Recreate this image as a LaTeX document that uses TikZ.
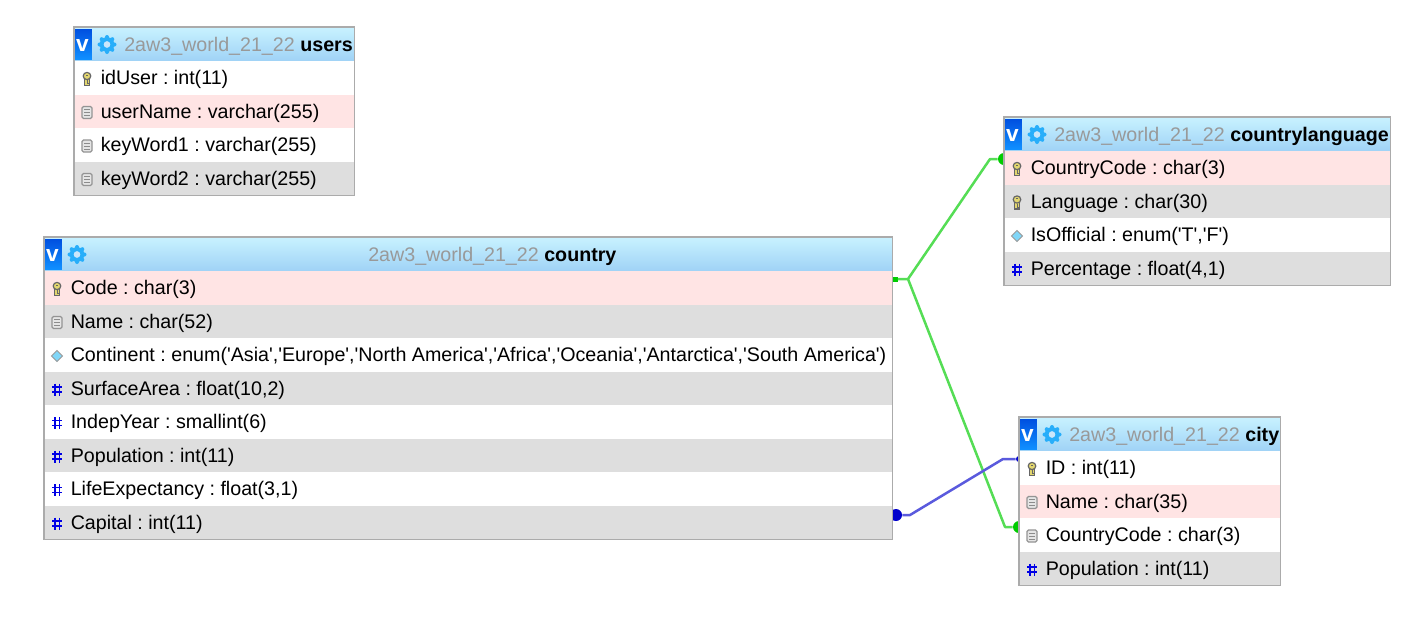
\documentclass[tikz,border=0pt]{standalone}
\usepackage{fontspec}
\newfontfamily\dbfont{Liberation Sans}
\usetikzlibrary{fit,backgrounds}
\definecolor{rowpink}{HTML}{FFE4E4}
\definecolor{rowgrey}{HTML}{DEDEDE}
\definecolor{headtop}{HTML}{C8F2FF}
\definecolor{headblue}{HTML}{9FD2F6}
\definecolor{linkgreen}{HTML}{55DD55}
\definecolor{linkblue}{HTML}{5A5ADD}
\definecolor{gearblue}{HTML}{28AEFA}
\definecolor{keyyellow}{HTML}{E2D66E}
\definecolor{vtop}{HTML}{0050E0}
\definecolor{vbottom}{HTML}{1090FF}
\newdimen\px
\px=0.75pt
\tikzset{
  x=0.75pt, y=-0.75pt,
  dbhead/.style={anchor=north west, inner sep=0, minimum height=34*\px, top color=headtop, middle color=headblue, bottom color=headblue},
  dbrow/.style={anchor=north west, inner sep=0, minimum height=33.5*\px},
  dbtext/.style={anchor=base west, inner sep=0, font=\dbfont\frenchspacing\fontsize{14.75pt}{17pt}\selectfont},
  dbframe/.style={draw=black!33, line width=1.2*\px, inner sep=0},
  vbox/.style={anchor=north west, inner sep=0, minimum width=17*\px, minimum height=30*\px, top color=vtop, bottom color=vbottom},
  link/.style={line width=2.5*\px, line join=round},
  keyicon/.pic={
    \draw[draw=black!60, fill=keyyellow, line width=1.2*\px] (-2.6,-1) -- (-2.6,6.5) -- (2.6,6.5) -- (2.6,-1);
    \draw[draw=black!60, fill=keyyellow, line width=1.2*\px] (0,-3) ellipse (3.8 and 3.6);
    \draw[black!60, line width=1*\px] (-1.2,-4) -- (1.2,-4) (0,1) -- (0,4.5) -- (1.8,4.5);
  },
  texticon/.pic={
    \draw[draw=black!42, fill=black!10, rounded corners=1.5*\px, line width=1.2*\px] (-5,-6) rectangle (5,6);
    \draw[black!45, line width=0.9*\px] (-3,-3) -- (3,-3) (-3,0) -- (3,0) (-3,3) -- (3,3);
  },
  enumicon/.pic={
    \draw[draw=black!40, fill=cyan!50, line width=1*\px] (-5.5,0) -- (0,-5.5) -- (5.5,0) -- (0,5.5) -- cycle;
  },
  numicon/.pic={
    \draw[blue!90!black, line width=1.4*\px] (-2.2,-6) -- (-2.2,6) (2.2,-6) -- (2.2,6) (-5,-2.5) -- (5,-2.5) (-5,2.5) -- (5,2.5);
  },
  gearicon/.pic={
    \foreach \a in {0,45,...,315} \fill[gearblue] (\a:7.5) circle (2);
    \draw[gearblue, line width=4.4*\px] (0,0) circle (5.5);
    \fill[headblue!55!white] (0,0) circle (3.3);
  }
}
% #1 name, #2 x, #3 y, #4 width, #5 x of the title, #6 table name
\newcommand{\dbheader}[6]{
  \node[dbhead, minimum width=#4*\px] (#1-h) at (#2,#3) {};
  \node[vbox] (#1-v) at ({#2+0.5},{#3+2}) {};
  \node[anchor=base, inner sep=0, text=white, font=\dbfont\bfseries\fontsize{17pt}{17pt}\selectfont] (#1-vt) at ({#2+8.5},{#3+24}) {v};
  \pic at ({#2+33},{#3+17.5}) {gearicon};
  \node[dbtext] (#1-t) at (#5,{#3+24.5}) {\textcolor{black!40}{2aw3\_world\_21\_22} \textbf{#6}};
}
% #1 name, #2 x, #3 y, #4 width, #5 fill, #6 icon, #7 text
\newcommand{\dbline}[7]{
  \node[dbrow, fill=#5, minimum width=#4*\px] (#1) at (#2,#3) {};
  \pic at ({#2+13},{#3+18}) {#6};
  \node[dbtext] (#1-t) at ({#2+26.5},{#3+23.5}) {#7};
}
\begin{document}
\begin{tikzpicture}
  \useasboundingbox (0,0) rectangle (1428,619);

  % users
  \dbheader{users}{74}{27}{280}{124}{users}
  \dbline{users-1}{74}{61}{280}{white}{keyicon}{idUser : int(11)}
  \dbline{users-2}{74}{94.5}{280}{rowpink}{texticon}{userName : varchar(255)}
  \dbline{users-3}{74}{128}{280}{white}{texticon}{keyWord1 : varchar(255)}
  \dbline{users-4}{74}{161.5}{280}{rowgrey}{texticon}{keyWord2 : varchar(255)}
  \node[dbframe, fit=(users-h)(users-4)] (users) {};

  % country
  \dbheader{country}{44}{237}{848}{368}{country}
  \dbline{country-1}{44}{271}{848}{rowpink}{keyicon}{Code : char(3)}
  \dbline{country-2}{44}{304.5}{848}{rowgrey}{texticon}{Name : char(52)}
  \dbline{country-3}{44}{338}{848}{white}{enumicon}{Continent : enum('Asia','Europe','North America','Africa','Oceania','Antarctica','South America')}
  \dbline{country-4}{44}{371.5}{848}{rowgrey}{numicon}{SurfaceArea : float(10,2)}
  \dbline{country-5}{44}{405}{848}{white}{numicon}{IndepYear : smallint(6)}
  \dbline{country-6}{44}{438.5}{848}{rowgrey}{numicon}{Population : int(11)}
  \dbline{country-7}{44}{472}{848}{white}{numicon}{LifeExpectancy : float(3,1)}
  \dbline{country-8}{44}{505.5}{848}{rowgrey}{numicon}{Capital : int(11)}
  \node[dbframe, fit=(country-h)(country-8)] (country) {};

  % countrylanguage
  \dbheader{lang}{1004}{117}{386}{1054}{countrylanguage}
  \dbline{lang-1}{1004}{151}{386}{rowpink}{keyicon}{CountryCode : char(3)}
  \dbline{lang-2}{1004}{184.5}{386}{rowgrey}{keyicon}{Language : char(30)}
  \dbline{lang-3}{1004}{218}{386}{white}{enumicon}{IsOfficial : enum('T','F')}
  \dbline{lang-4}{1004}{251.5}{386}{rowgrey}{numicon}{Percentage : float(4,1)}
  \node[dbframe, fit=(lang-h)(lang-4)] (lang) {};

  % city
  \dbheader{city}{1019}{417}{261}{1069}{city}
  \dbline{city-1}{1019}{451}{261}{white}{keyicon}{ID : int(11)}
  \dbline{city-2}{1019}{484.5}{261}{rowpink}{texticon}{Name : char(35)}
  \dbline{city-3}{1019}{518}{261}{white}{texticon}{CountryCode : char(3)}
  \dbline{city-4}{1019}{551.5}{261}{rowgrey}{numicon}{Population : int(11)}
  \node[dbframe, fit=(city-h)(city-4)] (city) {};

  % relations, under the tables
  \begin{scope}[on background layer]
    \node[fill=green!80!black, minimum size=5*\px, inner sep=0] (codeend) at (895,279) {};
    \node[circle, fill=green!80!black, minimum size=12*\px, inner sep=0] (langend) at (1004,159) {};
    \node[circle, fill=green!80!black, minimum size=12*\px, inner sep=0] (cityend) at (1019,527) {};
    \node[circle, fill=blue!80!black, minimum size=12*\px, inner sep=0] (capitalend) at (896,515) {};
    \node[circle, fill=blue!80!black, minimum size=6*\px, inner sep=0] (idend) at (1019,459) {};
    \coordinate (fork) at (908,279);
    \coordinate (langbend) at (990,159);
    \coordinate (citybend) at (1005,527);
    \coordinate (capbend) at (910,515);
    \coordinate (idbend) at (1003,459);
    \draw[link, linkgreen] (codeend) -- (fork) -- (langbend) -- (langend);
    \draw[link, linkgreen] (fork) -- (citybend) -- (cityend);
    \draw[link, linkblue] (capitalend) -- (capbend) -- (idbend) -- (idend);
  \end{scope}
\end{tikzpicture}
\end{document}
